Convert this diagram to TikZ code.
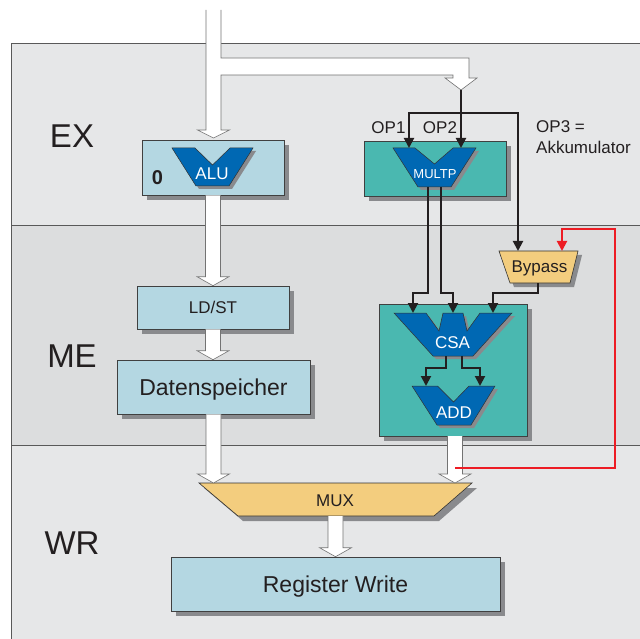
\documentclass[tikz,border=0pt]{standalone}
\usepackage{fontspec}
\setmainfont{Liberation Sans}
\usetikzlibrary{arrows.meta,calc}

\definecolor{bandlight}{HTML}{E6E7E8}
\definecolor{banddark}{HTML}{DCDDDE}
\definecolor{boxblue}{HTML}{B4D7E2}
\definecolor{boxteal}{HTML}{4AB8B0}
\definecolor{unitblue}{HTML}{0068B3}
\definecolor{muxorange}{HTML}{F3CD7E}
\definecolor{shadowgray}{HTML}{898A8D}
\definecolor{txtgray}{HTML}{231F20}
\definecolor{fbred}{HTML}{ED1C24}

\tikzset{
  frame/.style={draw=black!65, line width=0.8pt},
  stage/.style={font=\fontsize{33}{33}\selectfont, text=txtgray, inner sep=0pt, text height=23.6pt, text depth=0pt},
  lbl/.style={font=\fontsize{17}{20}\selectfont, text=txtgray, inner sep=0pt, text height=12.2pt, text depth=0pt},
  biglbl/.style={font=\fontsize{23}{26}\selectfont, text=txtgray, text height=16.5pt, text depth=0pt},
  unitlbl/.style={lbl, text=white},
  unitbox/.style={draw=black!75, line width=0.6pt, inner sep=0pt},
  unitshape/.style={fill=unitblue, draw=black!80, line width=0.5pt},
  muxshape/.style={fill=muxorange, draw=black!80, line width=0.6pt},
  fat/.style={draw=black!55, fill=white, line width=0.6pt},
  sig/.style={draw=txtgray, line width=2pt, -{Triangle[length=10pt,width=10pt]}},
  fb/.style={draw=fbred, line width=2pt, -{Triangle[length=10pt,width=10pt]}}
}

% white block arrow straight down from #1 to #2
\newcommand{\fatarrow}[2]{%
  \path[fat] let \p1=(#1), \p2=(#2) in
    (\x1-7.5pt,\y1) -- (\x1-7.5pt,\y2+9pt) -- (\x1-16pt,\y2+9pt) -- (\x1,\y2)
    -- (\x1+16pt,\y2+9pt) -- (\x1+7.5pt,\y2+9pt) -- (\x1+7.5pt,\y1);}
% filled outline with a grey copy behind it
\newcommand{\castpath}[3]{%
  \fill[shadowgray, shift={(#1,#1)}] #3;
  \path[#2] #3;}
% grey shadow of a box: centre, width, height
\newcommand{\castbox}[3]{%
  \fill[shadowgray] ($(#1)+(-#2/2+5,-#3/2+5)$) rectangle ($(#1)+(#2/2+5,#3/2+5)$);}

\begin{document}
\begin{tikzpicture}[x=1pt,y=-1pt]
  \useasboundingbox (0,0) rectangle (640,639);
  % pipeline stages
  \fill[bandlight] (11,43) rectangle (640,225);
  \fill[banddark] (11,225) rectangle (640,445);
  \fill[bandlight] (11,445) rectangle (640,639);
  \draw[frame] (640,43) -- (11,43) -- (11,639);
  \draw[frame] (11,225) -- (640,225);
  \draw[frame] (11,445) -- (640,445);
  \foreach \y/\name in {135.5/EX,355.5/ME,542.5/WR} \node[stage] (st-\name) at (72,\y) {\name};

  % operand input
  \path[fat] (206,10) -- (206,130) -- (197.5,130) -- (213.5,138) -- (229.5,130) -- (221,130)
    -- (221,75) -- (453,75) -- (453,78) -- (445,78) -- (461,90) -- (477,78) -- (469,78)
    -- (469,58) -- (221,58) -- (221,10);
  \coordinate (optap) at (461,90);

  % EX
  \castbox{213,167.5}{142}{55}
  \castbox{435,168.5}{142}{55}
  \node[unitbox, fill=boxblue, minimum width=142pt, minimum height=55pt] (alu) at (213,167.5) {};
  \node[unitbox, fill=boxteal, minimum width=142pt, minimum height=55pt] (multp) at (435,168.5) {};
  \castpath{3}{unitshape}{(172,148) -- (195,148) -- (212.5,165) -- (230,148) -- (253,148) -- (229,186) -- (196,186) -- cycle}
  \castpath{3}{unitshape}{(393,148) -- (415,148) -- (434.5,164) -- (453,148) -- (476,148) -- (451,187) -- (418,187) -- cycle}
  \node[unitlbl] (alu-l) at (212,173) {ALU};
  \node[unitlbl, font=\fontsize{13}{13}\selectfont, text height=9.3pt] (multp-l) at (435,174) {MULTP};
  \node[font=\fontsize{20}{20}\selectfont\bfseries, text=txtgray, inner sep=0pt, text height=14.3pt, text depth=0pt] (zero) at (157.5,177) {0};
  \node[lbl] (op1-l) at (388.5,127.5) {OP1};
  \node[lbl] (op2-l) at (440,127.5) {OP2};
  \node[font=\fontsize{17}{21}\selectfont, text=txtgray, inner sep=0pt, anchor=west, align=left] (op3-l) at (536,137.5) {OP3 =\\Akkumulator};

  % ME
  \castbox{213,307.5}{152}{43}
  \castbox{213.5,387}{193}{54}
  \castbox{453,370}{148}{132}
  \node[unitbox, fill=boxblue, minimum width=152pt, minimum height=43pt, lbl] (ldst) at (213,307.5) {LD/ST};
  \node[unitbox, fill=boxblue, minimum width=193pt, minimum height=54pt, biglbl, inner sep=0pt] (daten) at (213.5,387) {Datenspeicher};
  \node[unitbox, fill=boxteal, minimum width=148pt, minimum height=132pt] (csabox) at (453,370) {};
  \castpath{3}{unitshape}{(394,313) -- (426,313) -- (439,331) -- (443,313) -- (463,313) -- (467,331) -- (480,313)
    -- (512,313) -- (473,356) -- (433,356) -- cycle}
  \castpath{3}{unitshape}{(412,386) -- (437.5,386) -- (453.5,402) -- (469,386) -- (495,386) -- (471,425) -- (437,425) -- cycle}
  \node[unitlbl] (csa-l) at (452.5,342) {CSA};
  \node[unitlbl] (add-l) at (454,412) {ADD};
  \castpath{4}{muxshape}{(499,251) -- (578,251) -- (570,283) -- (510,283) -- cycle}
  \node[lbl] (bypass) at (539.5,266) {Bypass};

  % WR
  \castpath{5}{muxshape}{(199,483) -- (472,483) -- (434,516) -- (238,516) -- cycle}
  \node[lbl] (mux) at (335,500) {MUX};
  \castbox{335.5,584}{329}{54}
  \node[unitbox, fill=boxblue, minimum width=329pt, minimum height=54pt, biglbl, inner sep=0pt] (regw) at (335.5,584) {Register Write};

  % ports
  \coordinate (op1) at (409,148);   \coordinate (op2) at (461,148);
  \coordinate (byp-in) at (518,251); \coordinate (byp-fb) at (562,251); \coordinate (byp-out) at (538,283);
  \coordinate (mul-o1) at (428,187); \coordinate (mul-o2) at (441,187);
  \coordinate (csa-i1) at (413,313); \coordinate (csa-i2) at (453,313); \coordinate (csa-i3) at (493,313);
  \coordinate (csa-o1) at (446,356); \coordinate (csa-o2) at (462,356);
  \coordinate (add-i1) at (426,386); \coordinate (add-i2) at (480,386);
  \coordinate (csa-out) at (455,436); \coordinate (fb-start) at (455,468);
  \coordinate (mux-i1) at (213.5,483); \coordinate (mux-i2) at (455,483); \coordinate (mux-o) at (335.5,516);

  % data paths
  \fatarrow{alu.south}{ldst.north}
  \fatarrow{ldst.south}{daten.north}
  \fatarrow{daten.south}{mux-i1}
  \fatarrow{csa-out}{mux-i2}
  \fatarrow{mux-o}{regw.north}

  % signals
  \draw[sig] (optap) -- (op2);
  \draw[sig] (optap |- 0,113) -| (op1);
  \draw[sig] (optap |- 0,113) -| (byp-in);
  \draw[sig] (mul-o1) -- (mul-o1 |- 0,293) -| (csa-i1);
  \draw[sig] (mul-o2) -- (mul-o2 |- 0,293) -| (csa-i2);
  \draw[sig] (byp-out) -- (byp-out |- 0,293) -| (csa-i3);
  \draw[sig] (csa-o1) -- (csa-o1 |- 0,368) -| (add-i1);
  \draw[sig] (csa-o2) -- (csa-o2 |- 0,368) -| (add-i2);
  \draw[fb] (fb-start) -| (615,229) -| (byp-fb);
\end{tikzpicture}
\end{document}
